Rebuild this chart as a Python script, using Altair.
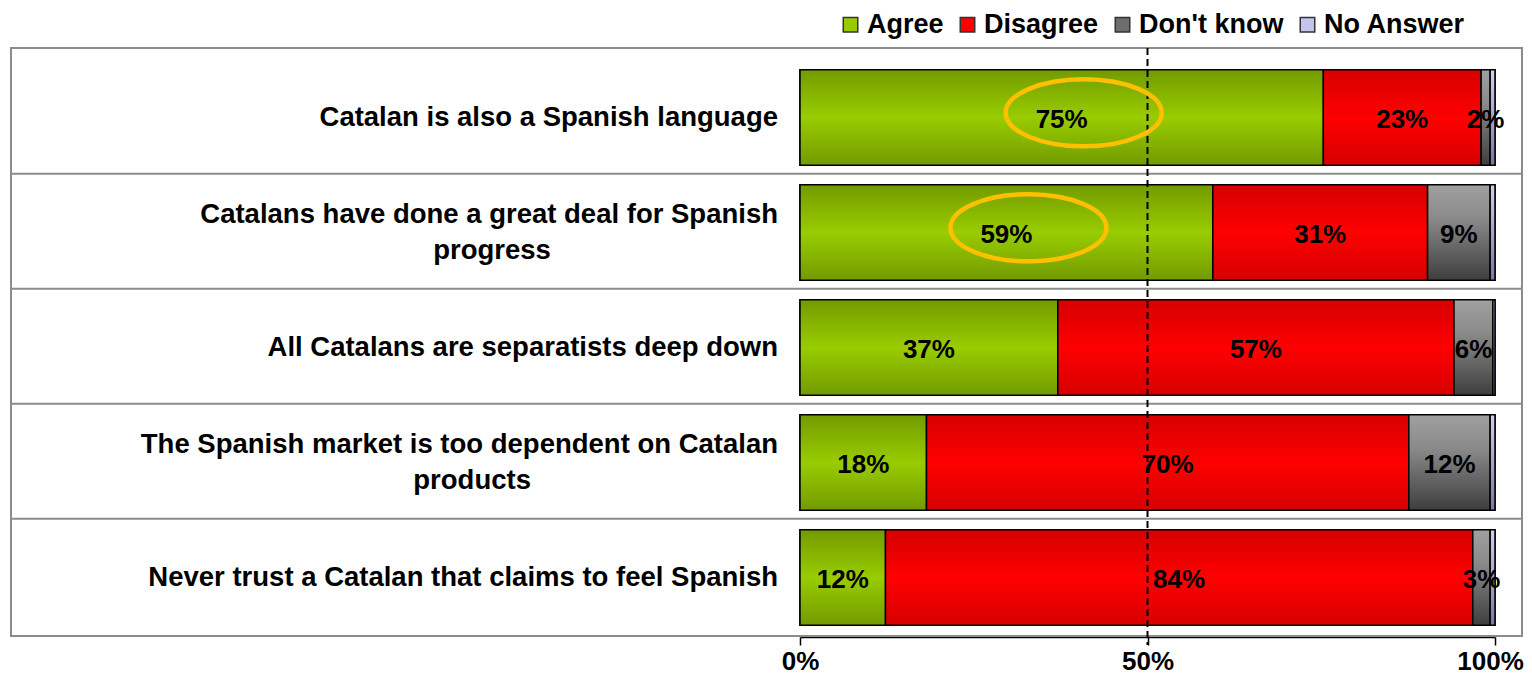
import altair as alt
import pandas as pd

questions = [
    "Catalan is also a Spanish language",
    "Catalans have done a great deal for Spanish progress",
    "All Catalans are separatists deep down",
    "The Spanish market is too dependent on Catalan products",
    "Never trust a Catalan that claims to feel Spanish",
]
line1 = [
    "Catalan is also a Spanish language",
    "Catalans have done a great deal for Spanish",
    "All Catalans are separatists deep down",
    "The Spanish market is too dependent on Catalan",
    "Never trust a Catalan that claims to feel Spanish",
]
line2 = ["", "progress", "", "products", ""]
answers = ["Agree", "Disagree", "Don't know", "No Answer"]
agree = [75.3, 59.4, 37.1, 18.2, 12.3]
disagree = [22.7, 30.9, 57.0, 69.4, 84.5]
dont_know = [1.3, 9.0, 5.6, 11.7, 2.5]
no_answer = [0.7, 0.7, 0.3, 0.7, 0.7]
agree_lbl = ["75%", "59%", "37%", "18%", "12%"]
disagree_lbl = ["23%", "31%", "57%", "70%", "84%"]
dk_lbl = ["2%", "9%", "6%", "12%", "3%"]
na_lbl = ["", "", "", "", ""]
highlight = [True, True, False, False, False]
colors = ["#99cc00", "#ff0000", "#6e6e6e", "#c4c4ec"]

FONT = "Liberation Sans, Arial, sans-serif"

rows = []
series = [agree, disagree, dont_know, no_answer]
labels = [agree_lbl, disagree_lbl, dk_lbl, na_lbl]
for qi, q in enumerate(questions):
    for ai, a in enumerate(answers):
        rows.append({
            "question": q, "answer": a, "order": ai,
            "value": series[ai][qi], "label": labels[ai][qi],
            "highlight": highlight[qi],
        })
df = pd.DataFrame(rows)
qdf = pd.DataFrame({"question": questions, "line1": line1, "line2": line2})

xscale = alt.Scale(domain=[0, 100], nice=False, zero=True)
xaxis = alt.Axis(values=[0, 50, 100], labelExpr="datum.value + '%'", title=None,
                 grid=False, domainColor="black", domainWidth=1.5, tickColor="black",
                 tickWidth=1.5, tickSize=8, labelFont=FONT, labelFontSize=26,
                 labelFontWeight="bold", labelColor="black", labelPadding=3, offset=2,
                 labelFlush=False,
                 labelOffset={"condition": {"test": "datum.value == 100", "value": -5},
                              "value": 0})
yscale = alt.Scale(paddingInner=0.17, paddingOuter=0.085)
yenc = alt.Y("question:N", sort=questions, scale=yscale, axis=None)

def xf(field):
    return alt.X(field, scale=xscale, axis=xaxis, title=None)

base = alt.Chart(df).transform_stack(
    stack="value", groupby=["question"], as_=["x0", "x1"],
    sort=[alt.SortField("order", order="ascending")]
).transform_calculate(xm="(datum.x0 + datum.x1) / 2")

def grad(stops):
    return alt.LinearGradient(gradient="linear", x1=0, y1=0, x2=0, y2=1,
                              stops=[alt.GradientStop(offset=o, color=c) for o, c in stops])

grads = {
    "Agree": grad([(0, "#729b00"), (0.5, "#99cc00"), (1, "#729b00")]),
    "Disagree": grad([(0, "#d60000"), (0.5, "#ff0000"), (1, "#d60000")]),
    "Don't know": grad([(0, "#a0a0a0"), (0.35, "#8a8a8a"), (1, "#3e3e3e")]),
    "No Answer": grad([(0, "#d0d0f4"), (1, "#7878a8")]),
}

frame = alt.Chart(pd.DataFrame({"k": [0]})).mark_rect(
    fillOpacity=0, stroke="#8c8c8c", strokeWidth=2
).encode(x=alt.value(-789), x2=alt.value(722), y=alt.value(-12), y2=alt.value(576))

seps = alt.Chart(qdf).transform_filter(
    alt.datum.question != questions[0]
).mark_rule(color="#8c8c8c", strokeWidth=2).encode(
    y=alt.Y("question:N", sort=questions, scale=yscale, axis=None, bandPosition=0),
    yOffset=alt.value(-11),
    x=alt.value(-789), x2=alt.value(722),
)

legend_bars = base.mark_bar(stroke="black", strokeWidth=1.5).encode(
    x=xf("x0:Q"), x2="x1:Q", y=yenc,
    fill=alt.Fill("answer:N", scale=alt.Scale(domain=answers, range=colors),
                  legend=alt.Legend(orient="none", legendX=37, legendY=-49,
                                    direction="horizontal", columns=4, title=None,
                                    symbolType="square", symbolSize=210,
                                    symbolStrokeColor="#333333", symbolStrokeWidth=1.5,
                                    symbolOpacity=1, labelFont=FONT, labelFontSize=27,
                                    labelFontWeight="bold", labelColor="black",
                                    columnPadding=10, labelOffset=3)),
)

grad_layers = [
    base.transform_filter(alt.datum.answer == a).mark_bar(
        fill=grads[a], stroke="black", strokeWidth=1.5
    ).encode(x=xf("x0:Q"), x2="x1:Q", y=yenc)
    for a in answers
]

midline = alt.Chart(pd.DataFrame({"k": [0]})).mark_rule(
    color="black", strokeWidth=2, strokeDash=[7, 4]
).encode(x=alt.X(datum=50, scale=xscale, axis=xaxis, title=None),
         y=alt.value(-12), y2=alt.value(585))

value_text = base.transform_filter(alt.datum.label != "").mark_text(
    font=FONT, fontSize=26, fontWeight="bold", color="black", baseline="middle", dy=2
).encode(x=xf("xm:Q"), y=yenc, text="label:N")

ELLIPSE = "M -1 0 A 1 0.43 0 1 1 1 0 A 1 0.43 0 1 1 -1 0 Z"
ellipses = base.transform_filter(
    (alt.datum.answer == "Agree") & alt.datum.highlight
).mark_point(shape=ELLIPSE, size=24336, filled=False, color="#ffc000",
             strokeWidth=4.5, opacity=1).encode(
    x=xf("xm:Q"), y=alt.Y("question:N", sort=questions, scale=yscale, axis=None,
                          bandPosition=0),
    xOffset=alt.value(22), yOffset=alt.value(43))

qbase = alt.Chart(qdf)
single = qbase.transform_filter(alt.datum.line2 == "").mark_text(
    font=FONT, fontSize=27.5, fontWeight="bold", color="black", align="right", baseline="middle"
).encode(y=yenc, x=alt.value(-22), text="line1:N")
double1 = qbase.transform_filter(alt.datum.line2 != "").mark_text(
    font=FONT, fontSize=27.5, fontWeight="bold", color="black", align="right",
    baseline="middle", dy=-18
).encode(y=yenc, x=alt.value(-22), text="line1:N")
double2 = qbase.transform_filter(alt.datum.line2 != "").transform_calculate(
    lx="-22 - length(datum.line1) * 13.3 / 2"
).mark_text(
    font=FONT, fontSize=27.5, fontWeight="bold", color="black", align="center",
    baseline="middle", dy=18
).encode(y=yenc, x=alt.X("lx:Q", scale=None), text="line2:N")

chart = alt.layer(
    frame, seps, legend_bars, *grad_layers, midline, value_text, ellipses,
    single, double1, double2
).properties(
    width=695, height=575,
    autosize=alt.AutoSizeParams(type="none"),
    padding={"left": 792, "top": 52, "right": 29, "bottom": 40},
).configure_view(stroke=None)

chart.save("out.html", embed_options={"renderer": "svg", "actions": False})
